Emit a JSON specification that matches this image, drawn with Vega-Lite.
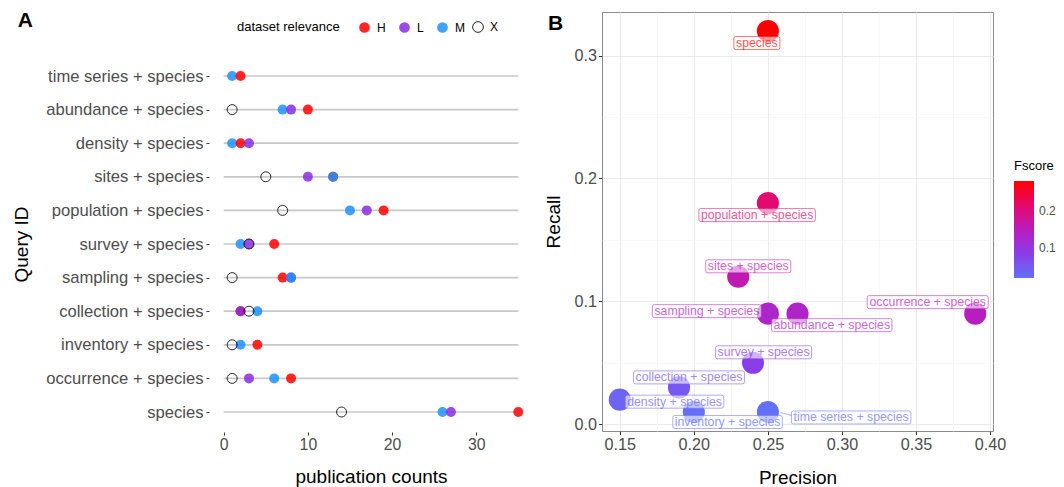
{
  "$schema": "https://vega.github.io/schema/vega-lite/v6.json",
  "background": "white",
  "padding": {"left": 12, "top": 10, "right": 0, "bottom": 0},
  "spacing": 11,
  "resolve": {"scale": {"x": "independent", "y": "independent", "color": "independent", "fill": "independent", "stroke": "independent", "shape": "independent"}, "legend": {"color": "independent", "fill": "independent", "stroke": "independent", "shape": "independent"}},
  "config": {
    "font": "Liberation Sans",
    "view": {"stroke": null},
    "axis": {"labelColor": "#4d4d4d", "titleColor": "#000000", "titleFontWeight": "normal", "tickColor": "#333333", "tickSize": 3, "domain": false, "labelFont": "Liberation Sans", "titleFont": "Liberation Sans"},
    "legend": {"labelFont": "Liberation Sans", "titleFont": "Liberation Sans"}
  },
  "datasets": {
    "pubs": [
      {"query": "time series + species", "relevance": "M", "count": 1},
      {"query": "time series + species", "relevance": "H", "count": 2},
      {"query": "abundance + species", "relevance": "X", "count": 1},
      {"query": "abundance + species", "relevance": "M", "count": 7},
      {"query": "abundance + species", "relevance": "L", "count": 8},
      {"query": "abundance + species", "relevance": "H", "count": 10},
      {"query": "density + species", "relevance": "M", "count": 1},
      {"query": "density + species", "relevance": "H", "count": 2},
      {"query": "density + species", "relevance": "L", "count": 3},
      {"query": "sites + species", "relevance": "X", "count": 5},
      {"query": "sites + species", "relevance": "L", "count": 10},
      {"query": "sites + species", "relevance": "H", "count": 13},
      {"query": "sites + species", "relevance": "M", "count": 13},
      {"query": "population + species", "relevance": "X", "count": 7},
      {"query": "population + species", "relevance": "M", "count": 15},
      {"query": "population + species", "relevance": "L", "count": 17},
      {"query": "population + species", "relevance": "H", "count": 19},
      {"query": "survey + species", "relevance": "M", "count": 2},
      {"query": "survey + species", "relevance": "L", "count": 3},
      {"query": "survey + species", "relevance": "X", "count": 3},
      {"query": "survey + species", "relevance": "H", "count": 6},
      {"query": "sampling + species", "relevance": "X", "count": 1},
      {"query": "sampling + species", "relevance": "H", "count": 7},
      {"query": "sampling + species", "relevance": "L", "count": 8},
      {"query": "sampling + species", "relevance": "M", "count": 8},
      {"query": "collection + species", "relevance": "H", "count": 2},
      {"query": "collection + species", "relevance": "L", "count": 2},
      {"query": "collection + species", "relevance": "X", "count": 3},
      {"query": "collection + species", "relevance": "M", "count": 4},
      {"query": "inventory + species", "relevance": "X", "count": 1},
      {"query": "inventory + species", "relevance": "M", "count": 2},
      {"query": "inventory + species", "relevance": "H", "count": 4},
      {"query": "occurrence + species", "relevance": "X", "count": 1},
      {"query": "occurrence + species", "relevance": "L", "count": 3},
      {"query": "occurrence + species", "relevance": "M", "count": 6},
      {"query": "occurrence + species", "relevance": "H", "count": 8},
      {"query": "species", "relevance": "X", "count": 14},
      {"query": "species", "relevance": "M", "count": 26},
      {"query": "species", "relevance": "L", "count": 27},
      {"query": "species", "relevance": "H", "count": 35}
    ],
    "perf": [
      {"query": "species", "Precision": 0.25, "Recall": 0.32, "Fscore": 0.2807},
      {"query": "population + species", "Precision": 0.25, "Recall": 0.18, "Fscore": 0.2093},
      {"query": "sites + species", "Precision": 0.23, "Recall": 0.12, "Fscore": 0.1577},
      {"query": "sampling + species", "Precision": 0.25, "Recall": 0.09, "Fscore": 0.1324},
      {"query": "abundance + species", "Precision": 0.27, "Recall": 0.09, "Fscore": 0.135},
      {"query": "occurrence + species", "Precision": 0.39, "Recall": 0.09, "Fscore": 0.1463},
      {"query": "survey + species", "Precision": 0.24, "Recall": 0.05, "Fscore": 0.0828},
      {"query": "collection + species", "Precision": 0.19, "Recall": 0.03, "Fscore": 0.0518},
      {"query": "density + species", "Precision": 0.15, "Recall": 0.02, "Fscore": 0.0353},
      {"query": "inventory + species", "Precision": 0.2, "Recall": 0.01, "Fscore": 0.019},
      {"query": "time series + species", "Precision": 0.25, "Recall": 0.01, "Fscore": 0.0192}
    ]
  },
  "hconcat": [
    {
      "width": 324,
      "height": 420,
      "title": {"text": "A", "anchor": "start", "frame": "bounds", "fontSize": 21, "fontWeight": "bold", "color": "#000000", "dx": 5, "offset": -19},
      "data": {"name": "pubs"},
      "encoding": {
        "y": {"field": "query", "type": "nominal", "sort": ["time series + species", "abundance + species", "density + species", "sites + species", "population + species", "survey + species", "sampling + species", "collection + species", "inventory + species", "occurrence + species", "species"], "scale": {"type": "point", "padding": 0, "range": [64, 400]}, "axis": {"title": "Query ID", "titleFontSize": 19, "labelFontSize": 16.6, "labelPadding": 3, "titlePadding": 14}},
        "x": {"field": "count", "type": "quantitative", "scale": {"domain": [-1.75, 36.75], "nice": false, "zero": false}, "axis": {"title": "publication counts", "titleFontSize": 19, "labelFontSize": 15.8, "values": [0, 10, 20, 30], "grid": false, "labelPadding": 2, "titlePadding": 16, "labelFlush": false}}
      },
      "layer": [
        {
          "transform": [
            {"aggregate": [{"op": "max", "field": "count", "as": "rowmax"}], "groupby": ["query"]},
            {"joinaggregate": [{"op": "max", "field": "rowmax", "as": "allmax"}]}
          ],
          "mark": {"type": "rule", "color": "#c8c8c8", "strokeWidth": 1.7},
          "encoding": {
            "x": {"field": "allmax", "type": "quantitative"},
            "x2": {"datum": 0}
          }
        },
        {
          "transform": [{"filter": "datum.relevance !== 'X'"}],
          "mark": {"type": "point", "shape": "circle", "filled": true, "size": 100, "opacity": 0.85, "strokeWidth": 0},
          "encoding": {
            "fill": {"field": "relevance", "type": "nominal", "scale": {"domain": ["H", "L", "M"], "range": ["#ff0000", "#8a2be2", "#1e90ff"]},
              "legend": {"title": "dataset relevance", "orient": "none", "legendX": 28, "legendY": 9, "direction": "horizontal", "titleOrient": "left", "titleFontSize": 13, "titleFontWeight": "normal", "titleColor": "#000000", "titlePadding": 18, "titleBaseline": "middle", "labelFontSize": 12, "labelColor": "#000000", "labelOffset": 6, "columnPadding": 12, "gridAlign": "none", "symbolSize": 115, "symbolType": "circle"}}
          }
        },
        {
          "transform": [{"filter": "datum.relevance === 'X'"}],
          "mark": {"type": "point", "shape": "circle", "filled": false, "size": 100, "opacity": 0.85, "strokeWidth": 1},
          "encoding": {
            "stroke": {"field": "relevance", "type": "nominal", "scale": {"domain": ["X"], "range": ["#000000"]},
              "legend": {"title": null, "orient": "none", "legendX": 263, "legendY": 9, "labelFontSize": 12, "labelColor": "#000000", "labelOffset": 6, "symbolSize": 115, "symbolType": "circle", "symbolStrokeWidth": 1, "symbolFillColor": "transparent"}}
          }
        }
      ]
    },
    {
      "width": 391,
      "height": 419,
      "view": {"stroke": "#8c8c8c", "strokeWidth": 1},
      "title": {"text": "B", "anchor": "start", "frame": "bounds", "fontSize": 21, "fontWeight": "bold", "color": "#000000", "dx": 3, "offset": -22},
      "data": {"name": "perf"},
      "encoding": {
        "x": {"field": "Precision", "type": "quantitative", "scale": {"domain": [0.138, 0.402], "nice": false, "zero": false}, "axis": {"title": "Precision", "titleFontSize": 19, "labelFontSize": 16.2, "values": [0.15, 0.175, 0.2, 0.225, 0.25, 0.275, 0.3, 0.325, 0.35, 0.375, 0.4], "labelExpr": "abs(datum.value*20 - round(datum.value*20)) < 0.001 ? format(datum.value, '.2f') : ''", "labelOverlap": false, "labelFlush": false, "labelPadding": 2, "titlePadding": 16, "tickSize": 3.5, "tickOpacity": {"condition": {"test": "abs(datum.value*20 - round(datum.value*20)) < 0.001", "value": 1}, "value": 0}, "grid": true, "gridColor": {"condition": {"test": "abs(datum.value*20 - round(datum.value*20)) < 0.001", "value": "#ebebeb"}, "value": "#f3f3f3"}, "gridWidth": {"condition": {"test": "abs(datum.value*20 - round(datum.value*20)) < 0.001", "value": 1.1}, "value": 0.7}}},
        "y": {"field": "Recall", "type": "quantitative", "scale": {"domain": [-0.0055, 0.3355], "nice": false, "zero": false}, "axis": {"title": "Recall", "titleFontSize": 19, "labelFontSize": 16.2, "values": [0, 0.05, 0.1, 0.15, 0.2, 0.25, 0.3], "labelExpr": "abs(datum.value*10 - round(datum.value*10)) < 0.001 ? format(datum.value, '.1f') : ''", "labelOverlap": false, "labelFlush": false, "labelPadding": 2, "titlePadding": 10, "tickSize": 3.5, "tickOpacity": {"condition": {"test": "abs(datum.value*10 - round(datum.value*10)) < 0.001", "value": 1}, "value": 0}, "grid": true, "gridColor": {"condition": {"test": "abs(datum.value*10 - round(datum.value*10)) < 0.001", "value": "#ebebeb"}, "value": "#f3f3f3"}, "gridWidth": {"condition": {"test": "abs(datum.value*10 - round(datum.value*10)) < 0.001", "value": 1.1}, "value": 0.7}}}
      },
      "layer": [
        {
          "mark": {"type": "circle", "size": 490, "opacity": 1},
          "encoding": {
            "color": {"field": "Fscore", "type": "quantitative", "scale": {"range": ["#6470f8", "#8a3ee8", "#ba1cbc", "#e6086a", "#ff0000"], "interpolate": "rgb"}, "legend": {"title": "Fscore", "orient": "none", "legendX": 412, "legendY": 148, "gradientLength": 97, "gradientThickness": 20, "values": [0.1, 0.2], "titleFontSize": 13, "titleFontWeight": "normal", "titleColor": "#000000", "labelFontSize": 12, "labelColor": "#4d4d4d", "labelOffset": 5, "titlePadding": 8, "gradientStrokeWidth": 0}}
          }
        },
        {
          "mark": {"type": "point", "filled": true, "size": 4, "fill": "white", "fillOpacity": 0.6, "strokeOpacity": 0.55, "strokeWidth": 1},
          "encoding": {
            "shape": {"field": "query", "type": "nominal", "legend": null, "scale": {
              "domain": ["species", "population + species", "sites + species", "sampling + species", "abundance + species", "occurrence + species", "survey + species", "collection + species", "density + species", "inventory + species", "time series + species"],
              "range": [
                "M-32,5.5H10Q12,5.5 12,7.5V16.5Q12,18.5 10,18.5H-32Q-34,18.5 -34,16.5V7.5Q-34,5.5 -32,5.5Z",
                "M-67,5.5H45.5Q47.5,5.5 47.5,7.5V16.5Q47.5,18.5 45.5,18.5H-67Q-69,18.5 -69,16.5V7.5Q-69,5.5 -67,5.5Z",
                "M-30.5,-17H50.5Q52.5,-17 52.5,-15V-6Q52.5,-4 50.5,-4H-30.5Q-32.5,-4 -32.5,-6V-15Q-32.5,-17 -30.5,-17Z",
                "M-113.5,-9H-8.5Q-6.5,-9 -6.5,-7V2Q-6.5,4 -8.5,4H-113.5Q-115.5,4 -115.5,2V-7Q-115.5,-9 -113.5,-9Z",
                "M-24,5H92.5Q94.5,5 94.5,7V16Q94.5,18 92.5,18H-24Q-26,18 -26,16V7Q-26,5 -24,5Z",
                "M-106,-18H11Q13,-18 13,-16V-7Q13,-5 11,-5H-106Q-108,-5 -108,-7V-16Q-108,-18 -106,-18Z",
                "M-35.5,-17H56.5Q58.5,-17 58.5,-15V-6Q58.5,-4 56.5,-4H-35.5Q-37.5,-4 -37.5,-6V-15Q-37.5,-17 -35.5,-17Z",
                "M-43.5,-16.5H63.5Q65.5,-16.5 65.5,-14.5V-5.5Q65.5,-3.5 63.5,-3.5H-43.5Q-45.5,-3.5 -45.5,-5.5V-14.5Q-45.5,-16.5 -43.5,-16.5Z",
                "M7.5,-4.5H102Q104,-4.5 104,-2.5V6.5Q104,8.5 102,8.5H7.5Q5.5,8.5 5.5,6.5V-2.5Q5.5,-4.5 7.5,-4.5Z",
                "M-19,3.5H86.5Q88.5,3.5 88.5,5.5V14.5Q88.5,16.5 86.5,16.5H-19Q-21,16.5 -21,14.5V5.5Q-21,3.5 -19,3.5Z",
                "M12.5,0.5L23.5,3.5M25.5,-1H141Q143,-1 143,1V10Q143,12 141,12H25.5Q23.5,12 23.5,10V1Q23.5,-1 25.5,-1Z"
              ]}},
            "stroke": {"field": "Fscore", "type": "quantitative", "legend": null, "scale": {"range": ["#6470f8", "#8a3ee8", "#ba1cbc", "#e6086a", "#ff0000"], "interpolate": "rgb"}}
          }
        },
        {
          "mark": {"type": "text", "fontSize": 12.3, "opacity": 0.7, "align": "center", "baseline": "middle", "dx": -11, "dy": 12},
          "transform": [{"filter": "datum.query == 'species'"}],
          "encoding": {"text": {"field": "query"}, "color": {"field": "Fscore", "type": "quantitative"}}
        },
        {
          "mark": {"type": "text", "fontSize": 12.3, "opacity": 0.7, "align": "center", "baseline": "middle", "dx": -10.75, "dy": 12},
          "transform": [{"filter": "datum.query == 'population + species'"}],
          "encoding": {"text": {"field": "query"}, "color": {"field": "Fscore", "type": "quantitative"}}
        },
        {
          "mark": {"type": "text", "fontSize": 12.3, "opacity": 0.7, "align": "center", "baseline": "middle", "dx": 10, "dy": -10.5},
          "transform": [{"filter": "datum.query == 'sites + species'"}],
          "encoding": {"text": {"field": "query"}, "color": {"field": "Fscore", "type": "quantitative"}}
        },
        {
          "mark": {"type": "text", "fontSize": 12.3, "opacity": 0.7, "align": "center", "baseline": "middle", "dx": -61, "dy": -2.5},
          "transform": [{"filter": "datum.query == 'sampling + species'"}],
          "encoding": {"text": {"field": "query"}, "color": {"field": "Fscore", "type": "quantitative"}}
        },
        {
          "mark": {"type": "text", "fontSize": 12.3, "opacity": 0.7, "align": "center", "baseline": "middle", "dx": 34.25, "dy": 11.5},
          "transform": [{"filter": "datum.query == 'abundance + species'"}],
          "encoding": {"text": {"field": "query"}, "color": {"field": "Fscore", "type": "quantitative"}}
        },
        {
          "mark": {"type": "text", "fontSize": 12.3, "opacity": 0.7, "align": "center", "baseline": "middle", "dx": -47.5, "dy": -11.5},
          "transform": [{"filter": "datum.query == 'occurrence + species'"}],
          "encoding": {"text": {"field": "query"}, "color": {"field": "Fscore", "type": "quantitative"}}
        },
        {
          "mark": {"type": "text", "fontSize": 12.3, "opacity": 0.7, "align": "center", "baseline": "middle", "dx": 10.5, "dy": -10.5},
          "transform": [{"filter": "datum.query == 'survey + species'"}],
          "encoding": {"text": {"field": "query"}, "color": {"field": "Fscore", "type": "quantitative"}}
        },
        {
          "mark": {"type": "text", "fontSize": 12.3, "opacity": 0.7, "align": "center", "baseline": "middle", "dx": 10, "dy": -10},
          "transform": [{"filter": "datum.query == 'collection + species'"}],
          "encoding": {"text": {"field": "query"}, "color": {"field": "Fscore", "type": "quantitative"}}
        },
        {
          "mark": {"type": "text", "fontSize": 12.3, "opacity": 0.7, "align": "center", "baseline": "middle", "dx": 54.75, "dy": 2},
          "transform": [{"filter": "datum.query == 'density + species'"}],
          "encoding": {"text": {"field": "query"}, "color": {"field": "Fscore", "type": "quantitative"}}
        },
        {
          "mark": {"type": "text", "fontSize": 12.3, "opacity": 0.7, "align": "center", "baseline": "middle", "dx": 33.75, "dy": 10},
          "transform": [{"filter": "datum.query == 'inventory + species'"}],
          "encoding": {"text": {"field": "query"}, "color": {"field": "Fscore", "type": "quantitative"}}
        },
        {
          "mark": {"type": "text", "fontSize": 12.3, "opacity": 0.7, "align": "center", "baseline": "middle", "dx": 83.25, "dy": 5.5},
          "transform": [{"filter": "datum.query == 'time series + species'"}],
          "encoding": {"text": {"field": "query"}, "color": {"field": "Fscore", "type": "quantitative"}}
        }
      ]
    }
  ]
}
